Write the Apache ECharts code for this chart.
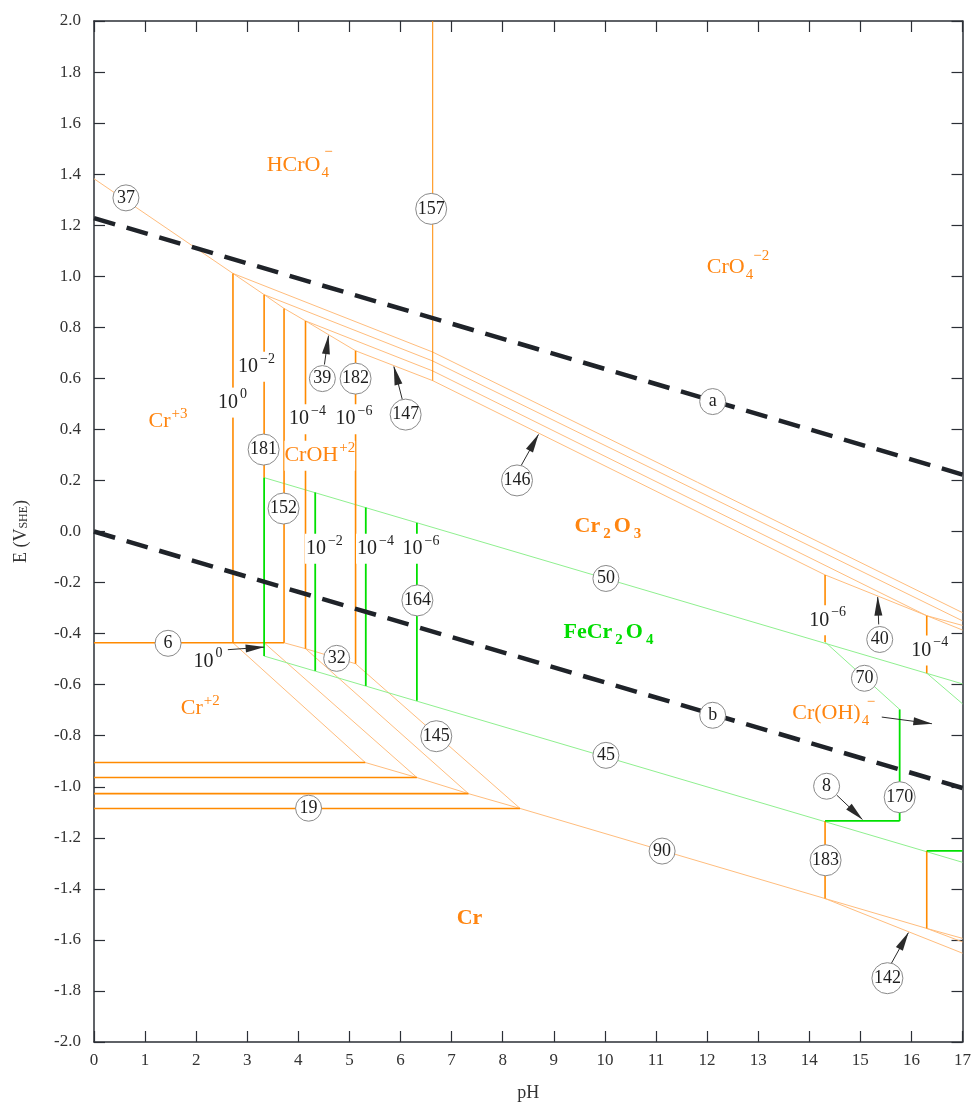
<!DOCTYPE html>
<html><head><meta charset="utf-8">
<script src="https://cdn.jsdelivr.net/npm/echarts@6/dist/echarts.min.js"></script>
<style>html,body{margin:0;padding:0;background:#fff}#c{width:974px;height:1112px}</style>
</head><body><div id="c"></div>
<script>
const FONT = '"Liberation Serif","Times New Roman",serif';

// ---- tick labels ----
const pHLabels = ['0','1','2','3','4','5','6','7','8','9','10','11','12','13','14','15','16','17'];
const eLabels = ['-2.0','-1.8','-1.6','-1.4','-1.2','-1.0','-0.8','-0.6','-0.4','-0.2','0.0','0.2','0.4','0.6','0.8','1.0','1.2','1.4','1.6','1.8','2.0'];

// ---- water stability lines (a, b) ----
const lineA = [[0,1.228],[17,0.223]];
const lineB = [[0,0.0],[17,-1.005]];

// ---- Cr high-potential boundaries ----
const line37 = [[0,1.382],[2.72,1.011],[3.33,0.928],[3.72,0.874],[4.14,0.825],[5.12,0.708]];
const ox0 = [[2.72,1.011],[6.63,0.703],[17,-0.318]];
const ox2 = [[3.33,0.928],[6.63,0.668],[17,-0.350]];
const ox4 = [[4.14,0.825],[6.63,0.629],[16.30,-0.330],[17,-0.368]];
const ox6 = [[5.12,0.708],[6.63,0.591],[14.31,-0.170],[17,-0.386]];
const line157 = [[6.63,2.0],[6.63,0.591]];

// ---- vertical (pH) boundaries, orange ----
const v0 = [[2.72,1.011],[2.72,-0.436]];
const v2 = [[3.33,0.928],[3.33,0.211]];
const v152 = [[3.72,0.874],[3.72,-0.436]];
const v4 = [[4.14,0.825],[4.14,-0.459]];
const v6 = [[5.12,0.708],[5.12,-0.518]];
const v14 = [[14.31,-0.170],[14.31,-0.433]];
const v16 = [[16.30,-0.330],[16.30,-0.555]];
const v183 = [[14.31,-1.134],[14.31,-1.438]];
const v16b = [[16.30,-1.251],[16.30,-1.555]];

// ---- Cr3+/Cr2+ and Cr2+/Cr ----
const line6 = [[0,-0.436],[3.72,-0.436]];
const line32 = [[3.72,-0.436],[4.14,-0.459],[5.12,-0.518]];
const h0 = [[0,-0.905],[5.31,-0.905]];
const h2 = [[0,-0.964],[6.32,-0.964]];
const h4 = [[0,-1.027],[7.33,-1.027]];
const h6 = [[0,-1.085],[8.34,-1.085]];
const d0 = [[2.72,-0.436],[5.31,-0.905]];
const d2 = [[3.33,-0.436],[6.32,-0.964]];
const d4 = [[4.14,-0.459],[7.33,-1.027]];
const d6 = [[5.12,-0.518],[8.34,-1.085]];
const line90 = [[5.31,-0.905],[6.32,-0.964],[7.33,-1.027],[8.34,-1.085],[14.31,-1.438],[16.30,-1.555],[17,-1.594]];
const line142 = [[14.31,-1.438],[17,-1.652]];
const line142b = [[16.30,-1.555],[17,-1.608]];

// ---- FeCr2O4 boundaries (green) ----
const g50 = [[3.33,0.211],[17,-0.597]];
const g45 = [[3.33,-0.488],[17,-1.296]];
const g70a = [[14.31,-0.433],[15.77,-0.697]];
const g70b = [[16.30,-0.555],[17,-0.675]];
const gv0 = [[3.33,0.211],[3.33,-0.488]];
const gv2 = [[4.33,0.153],[4.33,-0.546]];
const gv4 = [[5.32,0.094],[5.32,-0.605]];
const gv6 = [[6.32,0.034],[6.32,-0.663]];
const gv170 = [[15.77,-0.697],[15.77,-1.134]];
const gh8 = [[14.31,-1.134],[15.77,-1.134]];
const ghr = [[16.30,-1.251],[17,-1.251]];

// ---- circled line numbers ----
const circleText = ['37','157','a','b','39','182','147','146','181','152','6','32','164','145','50','45','90','19','40','70','8','170','183','142'];
const circlePos = [[0.625,1.307],[6.60,1.264],[12.11,0.509],[12.11,-0.720],[4.47,0.599],[5.12,0.599],[6.10,0.458],[8.28,0.200],[3.32,0.321],[3.71,0.090],[1.45,-0.438],[4.75,-0.497],[6.33,-0.270],[6.70,-0.802],[10.02,-0.184],[10.02,-0.877],[11.12,-1.252],[4.20,-1.084],[15.38,-0.423],[15.08,-0.575],[14.34,-0.998],[15.77,-1.041],[14.32,-1.288],[15.53,-1.750]];

// ---- arrows [from, to] ----
const arrows = [
  [[4.51,0.654],[4.59,0.767]],
  [[6.04,0.513],[5.87,0.646]],
  [[8.36,0.258],[8.70,0.380]],
  [[15.36,-0.364],[15.34,-0.257]],
  [[14.54,-1.033],[15.04,-1.128]],
  [[15.61,-1.691],[15.94,-1.572]],
  [[15.42,-0.727],[16.40,-0.753]],
  [[2.62,-0.463],[3.33,-0.453]]
];

// ---- species labels ----
const speciesText = ['{o|HCrO}{os|4}','{op|−}','{o|CrO}{os|4}','{op|−2}','{o|Cr}{op|+3}','{o|CrOH}{op|+2}','{o|Cr}{op|+2}','{ob|Cr}{obs|2}{ob|O}{obs|3}','{gb|FeCr}{gbs|2}{gb|O}{gbs|4}','{ob|Cr}','{o|Cr(OH)}{os|4}','{op|−}'];
const speciesPos = [[3.99,1.434],[4.58,1.488],[12.45,1.034],[13.05,1.082],[1.45,0.432],[4.42,0.297],[2.08,-0.692],[10.09,0.020],[10.10,-0.395],[7.35,-1.515],[14.42,-0.712],[15.20,-0.668]];
const speciesBg = [false,false,false,false,false,true,false,false,false,false,false,false];

// ---- concentration labels ----
const concText = ['{k|10}{kp|0}','{k|10}{kp|−2}','{k|10}{kp|−4}','{k|10}{kp|−6}','{k|10}{kp|−2}','{k|10}{kp|−4}','{k|10}{kp|−6}','{k|10}{kp|0}','{k|10}{kp|−6}','{k|10}{kp|−4}'];
const concPos = [[2.71,0.505],[3.18,0.645],[4.18,0.440],[5.09,0.440],[4.51,-0.068],[5.51,-0.068],[6.40,-0.068],[2.23,-0.510],[14.36,-0.348],[16.36,-0.466]];

const OR_L = '#ffbd7d', OR_D = '#ff8a00', G_L = '#8ff08f', G_B = '#00e000', DASH = '#1f2329', AX = '#2b2f36';
const OR_T = '#ff8510', G_T = '#00dd00';

function L(data, color, width, z, type) {
  return {type:'line', data:data, symbol:'none', silent:true, animation:false, z:z||2,
    lineStyle:{color:color, width:width, type:type||'solid'}};
}

const series = [];
[line37, ox0, ox2, ox4, ox6, line32, d0, d2, d4, d6, line90, line142, line142b].forEach(d => series.push(L(d, OR_L, 1, 2)));
[g50, g45, g70a, g70b].forEach(d => series.push(L(d, G_L, 1, 2)));
series.push(L(line157, OR_D, 1, 3));
[v0, v2, v152, v4, v6, v14, v16, v183, v16b, line6, h0, h2, h4, h6].forEach(d => series.push(L(d, OR_D, 1.6, 3)));
[gv0, gv2, gv4, gv6, gv170, gh8, ghr].forEach(d => series.push(L(d, G_B, 1.8, 3)));
series.push(L(lineA, DASH, 4.5, 4, [22, 12]));
series.push(L(lineB, DASH, 4.5, 4, [22, 12]));

// arrows
series.push({type:'line', data:[], symbol:'none', silent:true, z:5,
  markLine:{silent:true, animation:false, symbol:['none','triangle'], symbolSize:[8,19], symbolOffset:[[0,0],[0,9]], precision:3,
    lineStyle:{color:'#2a2a2a', width:1, type:'solid', opacity:1}, label:{show:false},
    emphasis:{disabled:true},
    data: arrows.map(a => [{coord:a[0]},{coord:a[1]}])}});

const RICH = {
  o:{fontFamily:FONT, fontSize:22, color:OR_T, lineHeight:30},
  os:{fontFamily:FONT, fontSize:15, color:OR_T, lineHeight:14, verticalAlign:'bottom', padding:[0,0,0,1]},
  op:{fontFamily:FONT, fontSize:15, color:OR_T, lineHeight:14, verticalAlign:'top', padding:[0,0,0,1]},
  ob:{fontFamily:FONT, fontSize:22, fontWeight:'bold', color:OR_T, lineHeight:30},
  obs:{fontFamily:FONT, fontSize:15, fontWeight:'bold', color:OR_T, lineHeight:14, verticalAlign:'bottom', padding:[0,3,0,3]},
  gb:{fontFamily:FONT, fontSize:22, fontWeight:'bold', color:G_T, lineHeight:30},
  gbs:{fontFamily:FONT, fontSize:15, fontWeight:'bold', color:G_T, lineHeight:14, verticalAlign:'bottom', padding:[0,3,0,3]},
  k:{fontFamily:FONT, fontSize:20, color:'#222', lineHeight:30},
  kp:{fontFamily:FONT, fontSize:14, color:'#222', lineHeight:14, verticalAlign:'top', padding:[0,0,0,2]}
};

series.push({type:'scatter', silent:true, z:8, symbolSize:0, itemStyle:{opacity:1},
  data: speciesText.map((t,i) => ({name:t, value:speciesPos[i],
    label: speciesBg[i] ? {backgroundColor:'#fff'} : {}})),
  label:{show:true, position:'inside', formatter:p => p.name, rich:RICH, opacity:1}});

series.push({type:'scatter', silent:true, z:8, symbolSize:0, itemStyle:{opacity:1},
  data: concText.map((t,i) => ({name:t, value:concPos[i]})),
  label:{show:true, position:'inside', formatter:p => p.name, rich:RICH, backgroundColor:'#fff', padding:[0,1], opacity:1}});

series.push({type:'scatter', silent:true, z:10,
  symbol:'circle',
  data: circleText.map((t,i) => ({name:t, value:circlePos[i], symbolSize: t.length >= 3 ? 31 : 26})),
  itemStyle:{color:'#fff', borderColor:'#8a8a8a', borderWidth:1, opacity:1},
  label:{show:true, position:'inside', formatter:p => p.name, fontFamily:FONT, fontSize:18, color:'#1e1e1e', opacity:1}});

const axisCommon = {
  axisLine:{show:true, onZero:false, lineStyle:{color:AX, width:1.5}},
  axisTick:{show:true, inside:true, length:11, lineStyle:{color:AX, width:1.2}},
  splitLine:{show:false}
};

const option = {
  animation:false,
  backgroundColor:'#fff',
  grid:{left:94, right:10, top:21, bottom:70, containLabel:false},
  xAxis:[
    Object.assign({type:'value', min:0, max:17, interval:1, position:'bottom',
      name:'pH', nameLocation:'middle', nameGap:42,
      nameTextStyle:{fontFamily:FONT, fontSize:18, color:'#333'},
      axisLabel:{fontFamily:FONT, fontSize:17, color:'#333', margin:10, formatter:v => pHLabels[Math.round(v)]}}, axisCommon),
    Object.assign({type:'value', min:0, max:17, interval:1, position:'top', axisLabel:{show:false}}, axisCommon)
  ],
  yAxis:[
    Object.assign({type:'value', min:-2, max:2, interval:0.2, position:'left',
      name:'E (V{s|SHE})', nameLocation:'middle', nameGap:64, nameRotate:90,
      nameTextStyle:{fontFamily:FONT, fontSize:18, color:'#333', rich:{s:{fontFamily:FONT, fontSize:12, color:'#333', verticalAlign:'bottom', lineHeight:10}}},
      axisLabel:{fontFamily:FONT, fontSize:17, color:'#333', margin:13, formatter:v => eLabels[Math.round((v + 2) / 0.2)]}}, axisCommon),
    Object.assign({type:'value', min:-2, max:2, interval:0.2, position:'right', axisLabel:{show:false}}, axisCommon)
  ],
  series: series
};

const chart = echarts.init(document.getElementById('c'), null, {renderer:'canvas'});
chart.setOption(option);
</script>
</body></html>
